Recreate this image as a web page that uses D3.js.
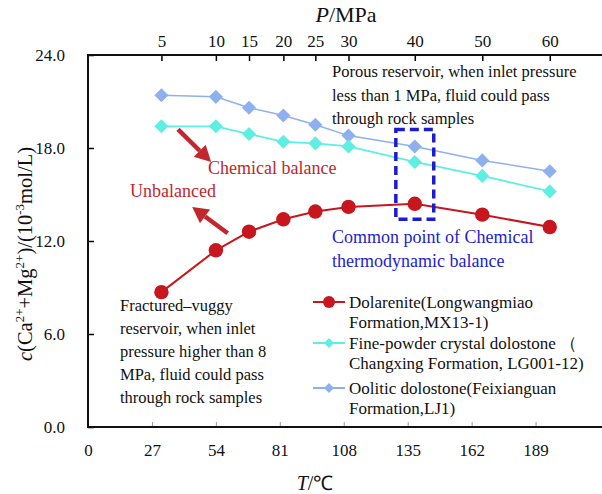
<!DOCTYPE html>
<html>
<head>
<meta charset="utf-8">
<script src="https://cdn.jsdelivr.net/npm/d3@7/dist/d3.min.js"></script>
<style>
  body { margin: 0; background: #fff; }
  svg text { font-family: "Liberation Serif", "Times New Roman", serif; }
</style>
</head>
<body>
<script>
// pressure steps (top axis) and the temperature each one sits at (bottom axis)
var pressure = [5, 10, 15, 20, 25, 30, 40, 50, 60];
var temperature = [31, 54, 68, 82.5, 96, 110, 138, 166.5, 195];

// c(Ca2+ + Mg2+), 10^-3 mol/L
var dolarenite = [8.7, 11.4, 12.6, 13.4, 13.9, 14.2, 14.4, 13.7, 12.9];
var finePowder = [19.4, 19.4, 18.9, 18.4, 18.3, 18.1, 17.1, 16.2, 15.2];
var oolitic = [21.4, 21.3, 20.6, 20.1, 19.5, 18.8, 18.1, 17.2, 16.5];

var xTicks = [0, 27, 54, 81, 108, 135, 162, 189];
var yTicks = [0, 6, 12, 18, 24];

var width = 602, height = 494;
var plotLeft = 88, plotTop = 55, plotBottom = 427, plotRight = 599.5;

var red = "#c8161e", cyan = "#5eeee2", blue = "#8fb0ef", txtRed = "#c1272d", txtBlue = "#2323d2";

var svg = d3.select("body").append("svg")
    .attr("width", width)
    .attr("height", height);

// scales
var x = d3.scaleLinear().domain([0, 216]).range([plotLeft, plotRight]);
var y = d3.scaleLinear().domain([0, 24]).range([plotBottom, plotTop]);

// axes
var xAxis = d3.axisBottom(x).tickValues(xTicks).tickFormat(d3.format("d"))
    .tickSizeInner(-5).tickSizeOuter(0).tickPadding(17);
var yAxis = d3.axisLeft(y).tickValues(yTicks).tickFormat(d3.format(".1f"))
    .tickSizeInner(-6).tickSizeOuter(0).tickPadding(23);
var topAxis = d3.axisTop(x).tickValues(temperature)
    .tickFormat(function(d, i) { return pressure[i]; })
    .tickSizeInner(-6).tickSizeOuter(0).tickPadding(8);

var gx = svg.append("g").attr("transform", "translate(0," + plotBottom + ")").call(xAxis);
gx.selectAll(".tick line").attr("stroke", "#9a9a9a").attr("stroke-width", 1);

var gy = svg.append("g").attr("transform", "translate(" + plotLeft + ",0)").call(yAxis);
gy.selectAll(".tick line").attr("stroke", "#000").attr("stroke-width", 1.5);

var gt = svg.append("g").attr("transform", "translate(0," + plotTop + ")").call(topAxis);
gt.selectAll(".tick line").attr("stroke", "#000").attr("stroke-width", 1.5);

svg.selectAll(".domain").remove();
svg.selectAll(".tick text").attr("font-size", 17)
    .style("font-family", '"Liberation Serif", "Times New Roman", serif').attr("fill", "#111");

// frame lines
svg.append("line").attr("x1", plotLeft).attr("x2", width).attr("y1", plotBottom).attr("y2", plotBottom)
    .attr("stroke", "#111").attr("stroke-width", 2);
svg.append("line").attr("x1", plotLeft).attr("x2", width).attr("y1", plotTop).attr("y2", plotTop)
    .attr("stroke", "#111").attr("stroke-width", 2);
svg.append("line").attr("x1", plotLeft).attr("x2", plotLeft).attr("y1", plotTop - 1).attr("y2", plotBottom + 1)
    .attr("stroke", "#111").attr("stroke-width", 2);

// axis titles
var tTitle = svg.append("text").attr("x", 315).attr("y", 490).attr("text-anchor", "middle")
    .attr("font-size", 20).attr("fill", "#111");
tTitle.append("tspan").attr("font-style", "italic").text("T");
tTitle.append("tspan").text("/℃");

var pTitle = svg.append("text").attr("x", 346).attr("y", 22).attr("text-anchor", "middle")
    .attr("font-size", 22).attr("fill", "#111");
pTitle.append("tspan").attr("font-style", "italic").text("P");
pTitle.append("tspan").text("/MPa");

var yTitle = svg.append("text")
    .attr("transform", "translate(32,254) rotate(-90)")
    .attr("text-anchor", "middle").attr("font-size", 20.5).attr("fill", "#111");
yTitle.append("tspan").attr("font-style", "italic").text("c");
yTitle.append("tspan").text("(Ca");
yTitle.append("tspan").attr("font-size", 13).attr("dy", -8).text("2+");
yTitle.append("tspan").attr("dy", 8).text("+Mg");
yTitle.append("tspan").attr("font-size", 13).attr("dy", -8).text("2+");
yTitle.append("tspan").attr("dy", 8).text(")/(10");
yTitle.append("tspan").attr("font-size", 13).attr("dy", -8).text("-3");
yTitle.append("tspan").attr("dy", 8).text("mol/L)");

// series
var series = [
  {name: "oolitic", values: oolitic, color: blue, shape: "diamond", lw: 1.5},
  {name: "fine", values: finePowder, color: cyan, shape: "diamond", lw: 1.8},
  {name: "dolarenite", values: dolarenite, color: red, shape: "circle", lw: 2}
];

var line = d3.line()
    .x(function(d, i) { return x(temperature[i]); })
    .y(function(d) { return y(d); });

var diamond = d3.symbol().type(d3.symbolSquare);

series.forEach(function(s) {
  svg.append("path").datum(s.values)
      .attr("d", line).attr("fill", "none")
      .attr("stroke", s.color).attr("stroke-width", s.lw);
  var pts = svg.append("g").selectAll("g").data(s.values).enter().append("g")
      .attr("transform", function(d, i) { return "translate(" + x(temperature[i]) + "," + y(d) + ")"; });
  if (s.shape === "circle") {
    pts.append("circle").attr("r", 7.2).attr("fill", s.color);
  } else {
    pts.append("path").attr("d", diamond.size(100)()).attr("transform", "rotate(45)").attr("fill", s.color);
  }
});

// dashed box round the common point
svg.append("rect")
    .attr("x", x(130)).attr("y", y(19.2))
    .attr("width", x(146) - x(130)).attr("height", y(13.4) - y(19.2))
    .attr("fill", "none").attr("stroke", "#1b1bcf").attr("stroke-width", 3.5)
    .attr("stroke-dasharray", "9,5");

// arrows
function arrow(t0, v0, t1, v1) {
  var x0 = x(t0), y0 = y(v0), x1 = x(t1), y1 = y(v1);
  var a = Math.atan2(y1 - y0, x1 - x0), len = 16, half = 8.5;
  var bx = x1 - len * Math.cos(a), by = y1 - len * Math.sin(a);
  svg.append("line").attr("x1", x0).attr("y1", y0).attr("x2", bx).attr("y2", by)
      .attr("stroke", txtRed).attr("stroke-width", 4.5);
  svg.append("path")
      .attr("d", "M" + x1 + "," + y1 +
                 "L" + (bx + half * Math.sin(a)) + "," + (by - half * Math.cos(a)) +
                 "L" + (bx - half * Math.sin(a)) + "," + (by + half * Math.cos(a)) + "Z")
      .attr("fill", txtRed);
}
arrow(38, 19.2, 52, 17.1);
arrow(59, 12.5, 44, 14.2);

// text blocks
function block(lines, x0, y0, dy, color, size) {
  var t = svg.append("text").attr("font-size", size || 16.5).attr("fill", color);
  lines.forEach(function(l, i) {
    t.append("tspan").attr("x", x0).attr("y", y0 + i * dy).text(l);
  });
}
block(["Porous reservoir, when inlet pressure", "less than 1 MPa, fluid could pass", "through rock samples"], 332, 77, 23.5, "#111");
block(["Fractured\u2013vuggy", "reservoir, when inlet", "pressure higher than 8", "MPa, fluid could pass", "through rock samples"], 120, 311, 23, "#111");
block(["Chemical balance"], 208, 174, 20, txtRed, 18);
block(["Unbalanced"], 130, 197, 20, txtRed, 18);
block(["Common point of Chemical", "thermodynamic balance"], 332, 243, 24, txtBlue, 18);

// legend
var legend = [
  {label: ["Dolarenite(Longwangmiao", "Formation,MX13-1)"], color: red, shape: "circle", y: 302},
  {label: ["Fine-powder crystal dolostone \uff08", "Changxing Formation, LG001-12)"], color: cyan, shape: "diamond", y: 343},
  {label: ["Oolitic dolostone(Feixianguan", "Formation,LJ1)"], color: blue, shape: "diamond", y: 388}
];
legend.forEach(function(d) {
  svg.append("line").attr("x1", 313).attr("x2", 345).attr("y1", d.y).attr("y2", d.y)
      .attr("stroke", d.color).attr("stroke-width", 2);
  if (d.shape === "circle") {
    svg.append("circle").attr("cx", 329).attr("cy", d.y).attr("r", 6).attr("fill", d.color);
  } else {
    svg.append("path").attr("d", diamond.size(50)())
        .attr("transform", "translate(329," + d.y + ") rotate(45)").attr("fill", d.color);
  }
  block(d.label, 349, d.y + 6, 19.5, "#111", 17);
});
</script>
</body>
</html>
